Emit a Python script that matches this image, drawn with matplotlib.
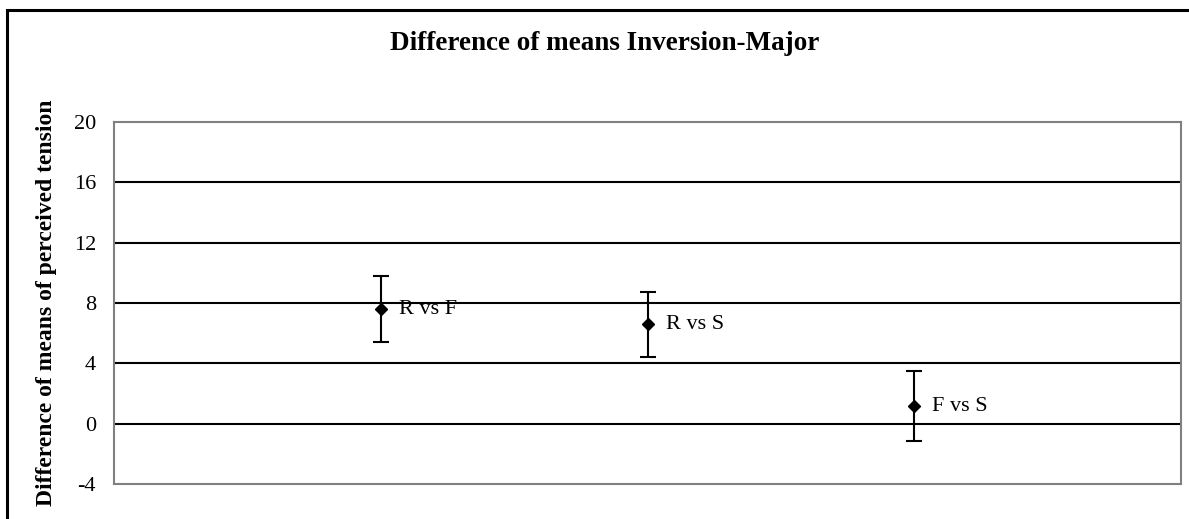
import matplotlib.pyplot as plt
from matplotlib.patches import Rectangle

# comparisons and their mean differences with error margins
comparisons = ['R vs F', 'R vs S', 'F vs S']
positions = [1, 2, 3]
mean_diff = [7.6, 6.6, 1.17]
err = [2.2, 2.15, 2.3]

yticks = [-4, 0, 4, 8, 12, 16, 20]

plt.rcParams['font.family'] = ['Liberation Serif', 'DejaVu Serif']

W, H = 1189, 519
fig = plt.figure(figsize=(W / 100, H / 100), dpi=100)
ax = fig.add_axes([114 / W, 1 - 484 / H, (1181 - 114) / W, (484 - 122) / H])

# outer chart frame, running off the right and bottom edges
fig.patches.append(Rectangle((7 / W, -0.1), 1.2, 1 - 10 / H + 0.1,
                             transform=fig.transFigure, fill=False,
                             edgecolor='black', linewidth=2.2))

ax.set_xlim(0, 4)
ax.set_ylim(-4, 20)
ax.set_yticks(yticks)
ax.set_yticklabels([str(v) for v in yticks], fontsize=16)
ax.set_xticks([])
ax.tick_params(axis='y', length=0, pad=13)

for v in yticks[1:-1]:
    ax.axhline(v, color='black', linewidth=1.5, zorder=1)

for s in ax.spines.values():
    s.set_color('#808080')
    s.set_linewidth(1.5)

ax.errorbar(positions, mean_diff, yerr=err, fmt='D', color='black',
            markersize=6, ecolor='black', elinewidth=1.5, capsize=6,
            capthick=1.5, zorder=3)

for x, y, lab in zip(positions, mean_diff, comparisons):
    ax.annotate(lab, (x, y), xytext=(13, 0), textcoords='offset points',
                va='center', ha='left', fontsize=16)

ax.set_ylabel('Difference of means of perceived tension', fontsize=17,
              fontweight='bold')
ax.yaxis.set_label_coords((57 - 114) / (1181 - 114), 0.5)

fig.text(605 / W, 1 - 43 / H, 'Difference of means Inversion-Major',
         ha='center', va='center', fontsize=19.5, fontweight='bold')

fig.savefig('out.png', dpi=100)
